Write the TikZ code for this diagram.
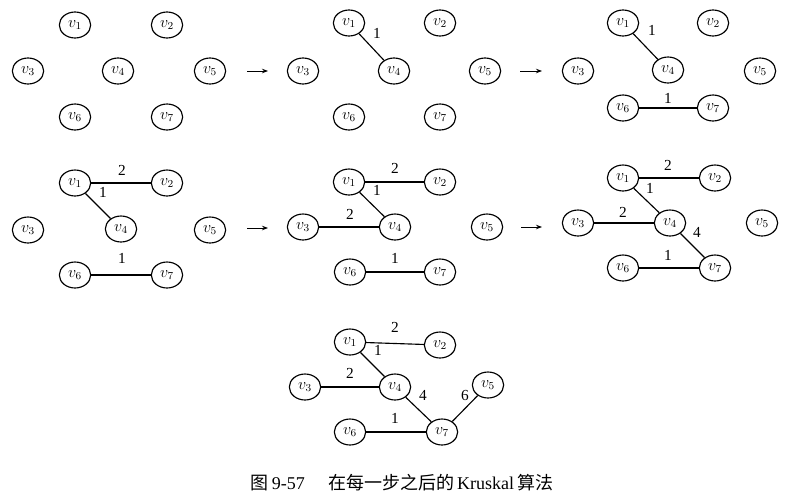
\documentclass[tikz,border=0pt]{standalone}
\usepackage{fontspec}
\setmainfont{Liberation Serif}
\newfontfamily\cjkfont{Noto Sans CJK SC}
\usetikzlibrary{shapes.geometric,arrows.meta}
\tikzset{
  vtx/.style={draw, ellipse, line width=0.85pt, minimum width=23.5pt, minimum height=19.5pt, inner sep=0pt, font=\fontsize{11.5}{13}\selectfont},
  edge/.style={line width=0.85pt},
  wt/.style={inner sep=0pt, font=\fontsize{11.5}{13}\selectfont},
  stepArrow/.style={line width=0.7pt, -{Stealth[length=4.5pt,width=3.4pt]}}
}
\begin{document}
\begin{tikzpicture}[x=0.75pt,y=-0.75pt]
\useasboundingbox (0,0) rectangle (801,501);
% vertices of all seven panels
\foreach \p/\n/\x/\y in {
  a/1/75/25, a/2/167/25, a/3/28/71, a/4/118/71, a/5/210/71, a/6/75/117, a/7/167/117,
  b/1/349/23, b/2/440/23, b/3/303/71, b/4/394/71, b/5/485/71, b/6/349/117, b/7/440/117,
  c/1/623/23, c/2/713/23, c/3/578/71, c/4/668/70, c/5/760/71, c/6/623/108, c/7/713/108,
  d/1/75/183, d/2/167/183, d/3/28/230, d/4/121/229, d/5/210/230, d/6/75/275, d/7/167/275,
  e/1/349/182, e/2/440/182, e/3/303/227, e/4/395/227, e/5/487/227, e/6/350/272, e/7/440/272,
  f/1/623/178, f/2/715/178, f/3/578/223, f/4/670/223, f/5/762/223, f/6/623/268, f/7/715/268,
  g/1/350/342, g/2/440/345, g/3/305/387, g/4/395/387, g/5/488/385, g/6/350/432, g/7/442/432}
  \node[vtx] (\p\n) at (\x,\y) {$v_{\n}$};

% panel b
\draw[edge] (b1) -- (b4);
\node[wt] (bw14) at (377,33) {1};
% panel c
\draw[edge] (c1) -- (c4);
\draw[edge] (c6) -- (c7);
\node[wt] (cw14) at (652,30) {1};
\node[wt] (cw67) at (668,98) {1};
% panel d
\draw[edge] (d1) -- (d2);
\draw[edge] (d1) -- (d4);
\draw[edge] (d6) -- (d7);
\node[wt] (dw12) at (122,170) {2};
\node[wt] (dw14) at (103,192) {1};
\node[wt] (dw67) at (122,258) {1};
% panel e
\draw[edge] (e1) -- (e2);
\draw[edge] (e1) -- (e4);
\draw[edge] (e3) -- (e4);
\draw[edge] (e6) -- (e7);
\node[wt] (ew12) at (395,168) {2};
\node[wt] (ew14) at (377,190) {1};
\node[wt] (ew34) at (350,214) {2};
\node[wt] (ew67) at (395,258) {1};
% panel f
\draw[edge] (f1) -- (f2);
\draw[edge] (f1) -- (f4);
\draw[edge] (f3) -- (f4);
\draw[edge] (f4) -- (f7);
\draw[edge] (f6) -- (f7);
\node[wt] (fw12) at (668,165) {2};
\node[wt] (fw14) at (650,188) {1};
\node[wt] (fw34) at (623,212) {2};
\node[wt] (fw47) at (697,232) {4};
\node[wt] (fw67) at (668,255) {1};
% panel g
\draw[edge] (g1) -- (g2);
\draw[edge] (g1) -- (g4);
\draw[edge] (g3) -- (g4);
\draw[edge] (g4) -- (g7);
\draw[edge] (g6) -- (g7);
\draw[edge] (g7) -- (g5);
\node[wt] (gw12) at (395,327) {2};
\node[wt] (gw14) at (378,350) {1};
\node[wt] (gw34) at (350,373) {2};
\node[wt] (gw47) at (423,395) {4};
\node[wt] (gw57) at (465,395) {6};
\node[wt] (gw67) at (395,418) {1};

% step arrows
\coordinate (ar1s) at (247,71);  \coordinate (ar1e) at (268,71);
\coordinate (ar2s) at (520,71);  \coordinate (ar2e) at (542,71);
\coordinate (ar3s) at (247,228); \coordinate (ar3e) at (268,228);
\coordinate (ar4s) at (521,227); \coordinate (ar4e) at (542,227);
\draw[stepArrow] (ar1s) -- (ar1e);
\draw[stepArrow] (ar2s) -- (ar2e);
\draw[stepArrow] (ar3s) -- (ar3e);
\draw[stepArrow] (ar4s) -- (ar4e);

% caption
\node[inner sep=0pt, font=\fontsize{13.5}{15}\selectfont] (cap) at (402,483)
  {{\cjkfont 图}\,9-57\hspace{1.3em}{\cjkfont 在每一步之后的}\,Kruskal\,{\cjkfont 算法}};
\end{tikzpicture}
\end{document}
